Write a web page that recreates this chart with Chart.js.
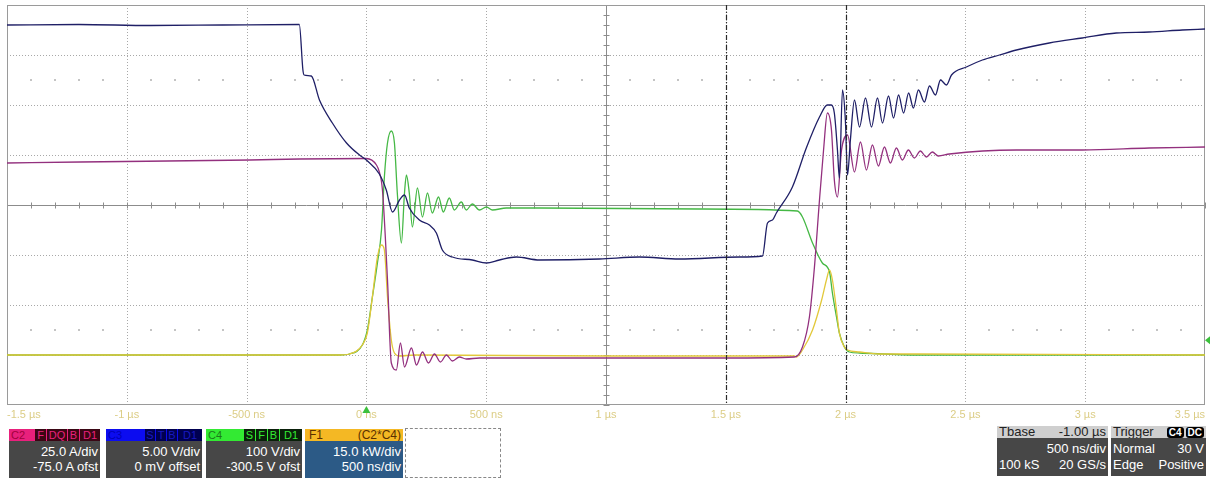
<!DOCTYPE html>
<html lang="en">
<head>
<meta charset="UTF-8">
<title>Double pulse - turn-off / turn-on</title>
<script src="https://cdn.jsdelivr.net/npm/chart.js"></script>
<style>
  body { margin: 0; background: #fff; font-family: "Liberation Sans", Arial, sans-serif; }
  #wrap { position: relative; width: 1210px; height: 480px; overflow: hidden; }
  #scope { position: absolute; left: 0; top: 0; }
  .box { position: absolute; }
  .hdr { display: flex; height: 12px; font-size: 11px; line-height: 12px; overflow: hidden; }
  .hdr .lbl { flex: 1; padding-left: 2px; }
  .hdr .bd { margin-left: 1px; text-align: center; }
  .body { background: #474747; color: #fff; font-size: 13px; line-height: 15px; padding: 3px 2px 0 2px; box-sizing: border-box; }
  .row { display: flex; justify-content: space-between; }
  .r { text-align: right; }
  .c2 .hdr { background: #e8207c; }
  .c2 .lbl { color: #a0003c; }
  .c2 .bd { background: #3a0614; color: #e8207c; }
  .c3 .hdr { background: #0c0cf0; }
  .c3 .lbl { color: #0000b8; }
  .c3 .bd { background: #000050; color: #1818c0; }
  .c4 .hdr { background: #33ea33; }
  .c4 .lbl { color: #1a7a1a; }
  .c4 .bd { background: #0a200a; color: #33ea33; }
  .f1 .hdr { background: #f4b824; color: #5a3000; justify-content: space-between; padding: 0 2px 0 4px; font-size: 12px; }
  .f1 .body { background: #2c5a86; }
  .dash { position: absolute; left: 405px; top: 428px; width: 96px; height: 50px; border: 1px dashed #888; box-sizing: border-box; }
  .tb .hdr, .tr .hdr { background: #cfcfcf; color: #222; font-size: 13px; justify-content: space-between; padding: 0 2px; }
  .tb .body, .tr .body { line-height: 16px; }
  .tr .badge { background: #000; color: #fff; font-size: 10px; font-weight: bold; padding: 0 2px; border-radius: 3px; margin-left: 2px; }
</style>
</head>
<body>
<div id="wrap">
  <canvas id="scope" width="1210" height="425"></canvas>

  <div class="box c2" style="left:9px; top:429px; width:91px;">
    <div class="hdr"><span class="lbl">C2</span><span class="bd" style="width:11px">F</span><span class="bd" style="width:20px">DQ</span><span class="bd" style="width:11px">B</span><span class="bd" style="width:20px">D1</span></div>
    <div class="body r" style="height:37px">25.0 A/div<br>-75.0 A ofst</div>
  </div>
  <div class="box c3" style="left:106px; top:429px; width:96px;">
    <div class="hdr"><span class="lbl">C3</span><span class="bd" style="width:10px">S</span><span class="bd" style="width:10px">T</span><span class="bd" style="width:10px">B</span><span class="bd" style="width:24px">D1</span></div>
    <div class="body r" style="height:37px">5.00 V/div<br>0 mV offset</div>
  </div>
  <div class="box c4" style="left:206px; top:429px; width:96px;">
    <div class="hdr"><span class="lbl">C4</span><span class="bd" style="width:11px">S</span><span class="bd" style="width:11px">F</span><span class="bd" style="width:11px">B</span><span class="bd" style="width:22px">D1</span></div>
    <div class="body r" style="height:37px">100 V/div<br>-300.5 V ofst</div>
  </div>
  <div class="box f1" style="left:305px; top:429px; width:98px;">
    <div class="hdr"><span>F1</span><span>(C2*C4)</span></div>
    <div class="body r" style="height:37px">15.0 kW/div<br>500 ns/div</div>
  </div>
  <div class="dash"></div>

  <div class="box tb" style="left:997px; top:426px; width:111px;">
    <div class="hdr"><span>Tbase</span><span>-1.00 µs</span></div>
    <div class="body" style="height:38px"><div class="r">500 ns/div</div><div class="row"><span>100 kS</span><span>20 GS/s</span></div></div>
  </div>
  <div class="box tr" style="left:1111px; top:426px; width:95px;">
    <div class="hdr"><span>Trigger</span><span><span class="badge">C4</span><span class="badge">DC</span></span></div>
    <div class="body" style="height:38px"><div class="row"><span>Normal</span><span>30 V</span></div><div class="row"><span>Edge</span><span>Positive</span></div></div>
  </div>
</div>
<script>
// time in µs, amplitude in screen divisions
const tickLabels = ['-1.5 µs', '-1 µs', '-500 ns', '0 ns', '500 ns', '1 µs', '1.5 µs', '2 µs', '2.5 µs', '3 µs', '3.5 µs'];

// C3 gate voltage
const c3Gate = [
  [-1.5, 3.6], [-1.2, 3.61], [-0.9, 3.59], [-0.6, 3.6], [-0.28, 3.61], [-0.265, 2.7], [-0.26, 2.6], [-0.23, 2.58],
  [-0.196, 2.1], [-0.142, 1.64], [-0.083, 1.24], [-0.029, 1.0], [0, 0.9], [0.054, 0.62], [0.083, 0.3],
  [0.109, -0.14], [0.138, 0.1], [0.159, 0.2], [0.179, -0.06], [0.221, -0.3], [0.263, -0.4], [0.292, -0.56],
  [0.317, -0.9], [0.359, -1.04], [0.442, -1.1], [0.501, -1.16], [0.555, -1.1], [0.626, -1.04], [0.722, -1.1],
  [0.973, -1.08], [1.14, -1.04], [1.306, -1.08], [1.557, -1.04], [1.653, -1.02], [1.674, -0.36], [1.695, -0.3],
  [1.711, -0.16], [1.778, 0.36], [1.836, 1.14], [1.891, 1.76], [1.924, 2.0], [1.94, 2.0], [1.953, 1.84],
  [1.966, 1.1], [1.974, 0.54], [1.987, 2.3], [1.999, 1.7], [2.008, 0.6], [2.02, 1.3], [2.037, 2.1],
  [2.058, 1.56], [2.083, 2.14], [2.108, 1.56], [2.133, 2.14], [2.154, 1.64], [2.179, 2.18], [2.2, 1.74],
  [2.221, 2.2], [2.242, 1.84], [2.263, 2.24], [2.283, 1.94], [2.304, 2.3], [2.329, 2.06], [2.35, 2.38],
  [2.375, 2.2], [2.396, 2.5], [2.421, 2.4], [2.442, 2.6], [2.504, 2.76], [2.571, 2.9], [2.642, 3.0],
  [2.713, 3.1], [2.85, 3.24], [2.988, 3.34], [3.13, 3.44], [3.267, 3.46], [3.405, 3.5], [3.5, 3.52]
];

// C2 drain current
const c2Current = [
  [-1.5, 0.84], [-1.195, 0.86], [-0.486, 0.9], [-0.28, 0.92], [0, 0.93], [0.042, 0.8], [0.054, 0.66],
  [0.067, 0.3], [0.088, -1.5], [0.104, -3.16], [0.125, -3.3], [0.142, -2.76], [0.159, -3.24], [0.188, -2.86],
  [0.209, -3.2], [0.234, -2.94], [0.259, -3.16], [0.284, -2.98], [0.309, -3.14], [0.334, -3.0], [0.359, -3.12],
  [0.388, -3.04], [0.417, -3.08], [0.472, -3.06], [1.0, -3.06], [1.5, -3.06], [1.786, -3.04], [1.82, -2.84],
  [1.849, -2.24], [1.87, -1.24], [1.891, 0.1], [1.908, 1.1], [1.924, 1.84], [1.941, 1.5], [1.953, 0.5],
  [1.966, 0.16], [1.983, 1.1], [2.008, 1.4], [2.037, 0.66], [2.062, 1.26], [2.087, 0.7], [2.112, 1.2],
  [2.137, 0.78], [2.162, 1.16], [2.187, 0.84], [2.212, 1.14], [2.237, 0.9], [2.262, 1.1], [2.287, 0.94],
  [2.312, 1.08], [2.337, 0.96], [2.362, 1.06], [2.387, 0.98], [2.433, 1.02], [2.713, 1.1], [2.988, 1.1],
  [3.267, 1.14], [3.5, 1.16]
];

// C4 drain-source voltage
const c4Voltage = [
  [-1.5, -3.0], [-0.113, -3.0], [-0.071, -2.98], [-0.017, -2.8], [0.004, -2.5], [0.025, -1.84], [0.046, -1.16],
  [0.063, -0.5], [0.075, 0.56], [0.088, 1.24], [0.104, 1.48], [0.117, 1.24], [0.129, 0.24], [0.146, -0.76],
  [0.159, 0.24], [0.167, 0.6], [0.179, 0.24], [0.192, -0.44], [0.213, 0.34], [0.234, -0.24], [0.255, 0.24],
  [0.275, -0.16], [0.301, 0.16], [0.321, -0.14], [0.346, 0.14], [0.367, -0.1], [0.396, 0.06], [0.417, -0.1],
  [0.442, 0.02], [0.472, -0.1], [0.501, -0.04], [0.526, -0.1], [0.584, -0.06], [0.722, -0.06], [1.39, -0.08],
  [1.799, -0.12], [1.82, -0.24], [1.862, -0.76], [1.903, -1.16], [1.933, -1.34], [1.945, -1.76], [1.962, -2.24],
  [1.974, -2.56], [1.995, -2.84], [2.016, -2.94], [2.058, -2.96], [2.308, -3.0], [3.5, -3.0]
];

// F1 = C2*C4 power
const f1Power = [
  [-1.5, -3.0], [-0.113, -3.0], [-0.071, -2.98], [-0.017, -2.8], [0.004, -2.56], [0.025, -1.84], [0.046, -1.04],
  [0.063, -0.8], [0.075, -0.9], [0.088, -1.84], [0.104, -2.7], [0.117, -2.96], [0.138, -3.02], [0.2, -3.0],
  [1.0, -3.02], [1.786, -3.02], [1.795, -3.04], [1.82, -2.9], [1.862, -2.5], [1.9, -1.9], [1.92, -1.5],
  [1.933, -1.3], [1.945, -1.5], [1.962, -2.1], [1.974, -2.56], [1.995, -2.84], [2.008, -2.9], [2.058, -2.94],
  [2.141, -2.98], [2.308, -2.98], [3.5, -3.0]
];

const cursors = [1.5, 2.0];
const triggerTime = 0;
const triggerLevel = -2.705;

const pts = arr => arr.map(p => ({ x: p[0], y: p[1] }));

const graticule = {
  id: 'graticule',
  beforeDatasetsDraw(chart) {
    const { ctx, chartArea: a, scales: { x, y } } = chart;
    const line = (x1, y1, x2, y2) => { ctx.beginPath(); ctx.moveTo(x1, y1); ctx.lineTo(x2, y2); ctx.stroke(); };
    ctx.save();
    ctx.lineWidth = 1;
    ctx.strokeStyle = '#a8a8a8';
    ctx.setLineDash([1, 2]);
    for (let i = -2; i <= 6; i++) {
      if (i === 2) continue;
      const px = Math.round(x.getPixelForValue(i / 2)) + 0.5;
      line(px, a.top, px, a.bottom);
    }
    for (let d = -3; d <= 3; d++) {
      if (d === 0) continue;
      const py = Math.round(y.getPixelForValue(d)) + 0.5;
      line(a.left, py, a.right, py);
    }
    ctx.setLineDash([]);
    ctx.strokeStyle = '#8c8c8c';
    const cy = Math.round(y.getPixelForValue(0)) + 0.5;
    const cx = Math.round(x.getPixelForValue(1)) + 0.5;
    line(a.left, cy, a.right, cy);
    line(cx, a.top, cx, a.bottom);
    for (let i = -15; i <= 35; i++) {
      const px = Math.round(x.getPixelForValue(i / 10)) + 0.5;
      line(px, cy - 3, px, cy + 3);
    }
    for (let i = -20; i <= 20; i++) {
      const py = Math.round(y.getPixelForValue(i / 5)) + 0.5;
      line(cx - 3, py, cx + 3, py);
    }
    ctx.fillStyle = '#c4c4c4';
    for (const d of [2.5, -2.5]) {
      const py = Math.round(y.getPixelForValue(d));
      for (let i = -14; i <= 34; i++) {
        if (i % 5 === 0) continue;
        const px = Math.round(x.getPixelForValue(i / 10));
        ctx.fillRect(px - 1, py - 1, 2, 2);
      }
    }
    ctx.strokeStyle = '#9a9a9a';
    ctx.strokeRect(a.left + 0.5, a.top + 0.5, a.width - 1, a.height - 1);
    ctx.restore();
  },
  afterDatasetsDraw(chart) {
    const { ctx, chartArea: a, scales: { x } } = chart;
    ctx.save();
    ctx.strokeStyle = '#2a2a2a';
    ctx.lineWidth = 1.2;
    ctx.setLineDash([5, 2, 1, 2]);
    for (const t of cursors) {
      const px = Math.round(x.getPixelForValue(t)) + 0.5;
      ctx.beginPath(); ctx.moveTo(px, a.top); ctx.lineTo(px, a.bottom); ctx.stroke();
    }
    ctx.restore();
  },
  afterDraw(chart) {
    const { ctx, chartArea: a, scales: { x, y } } = chart;
    ctx.save();
    ctx.fillStyle = '#3cc03c';
    const tx = x.getPixelForValue(triggerTime);
    ctx.beginPath();
    ctx.moveTo(tx, a.bottom + 1); ctx.lineTo(tx - 4, a.bottom + 8); ctx.lineTo(tx + 4, a.bottom + 8);
    ctx.fill();
    const ty = y.getPixelForValue(triggerLevel);
    ctx.beginPath();
    ctx.moveTo(a.right, ty); ctx.lineTo(a.right + 5, ty - 4); ctx.lineTo(a.right + 5, ty + 4);
    ctx.fill();
    ctx.restore();
  }
};

const trace = (label, data, color) => ({
  label, data: pts(data), borderColor: color, borderWidth: 1.3,
  pointRadius: 0, cubicInterpolationMode: 'monotone', fill: false
});

new Chart(document.getElementById('scope'), {
  type: 'line',
  data: {
    datasets: [
      trace('C3', c3Gate, '#1f1f66'),
      trace('C2', c2Current, '#93307e'),
      trace('F1', f1Power, '#e2c83a'),
      trace('C4', c4Voltage, '#45b845')
    ]
  },
  options: {
    responsive: false,
    animation: false,
    layout: { padding: { left: 7, right: 5, top: 5, bottom: 0 } },
    plugins: { legend: { display: false }, tooltip: { enabled: false } },
    scales: {
      x: {
        type: 'linear', min: -1.5, max: 3.5,
        grid: { display: false, drawTicks: false },
        border: { display: false },
        ticks: {
          stepSize: 0.5, autoSkip: false, maxRotation: 0, minRotation: 0,
          align: 'inner', padding: 3, color: '#dccd86',
          font: { family: '"Liberation Sans", Arial, sans-serif', size: 11 },
          callback: v => tickLabels[Math.round((v + 1.5) * 2)]
        },
        afterFit: s => { s.height = 20; }
      },
      y: { min: -4, max: 4, display: false }
    }
  },
  plugins: [graticule]
});
</script>
</body>
</html>
